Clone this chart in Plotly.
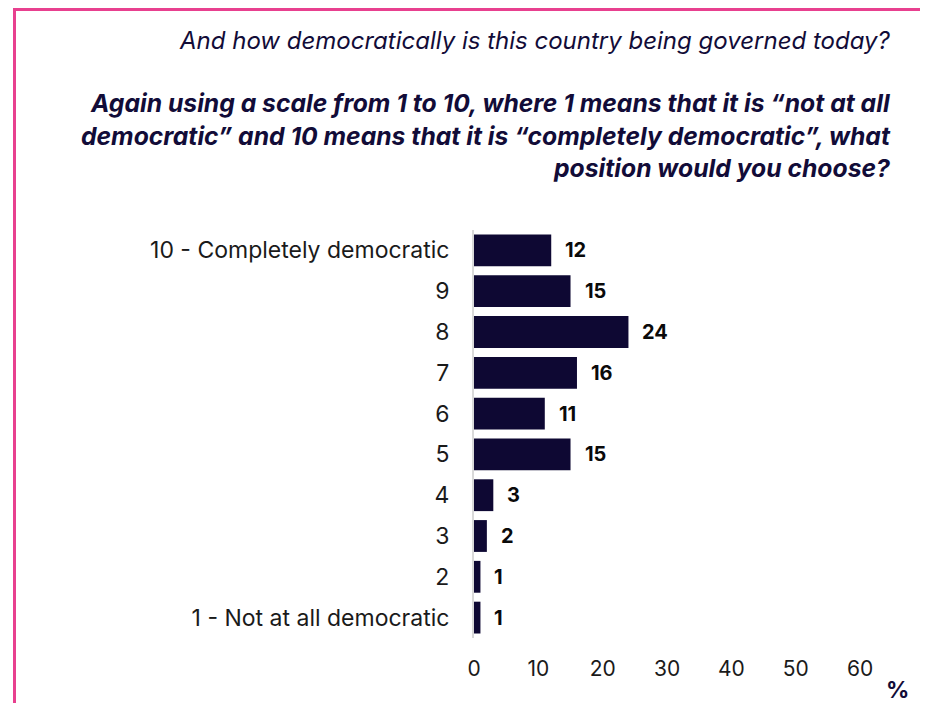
import plotly.graph_objects as go

categories = ["1 - Not at all democratic", "2", "3", "4", "5", "6", "7", "8", "9", "10 - Completely democratic"]
values = [1, 1, 2, 3, 15, 11, 16, 24, 15, 12]
title_line1 = "And how democratically is this country being governed today?"
title_lines = [
    "Again using a scale from 1 to 10, where 1 means that it is \u201cnot at all",
    "democratic\u201d and 10 means that it is \u201ccompletely democratic\u201d, what",
    "position would you choose?",
]
x_ticks = [0, 10, 20, 30, 40, 50, 60]

OFF = 8  # page body margin
W, H = 928 - OFF, 703 - OFF
L, R = 474 - OFF, 873 - OFF
T, B = 230 - OFF, 638 - OFF
FONT = "Inter"
NAVY = "#120c38"
BAR = "#0e0833"
PINK = "#e8408f"

def px(x):
    return (x - OFF - L) / (R - L)

def py(y):
    return (B - (y - OFF)) / (B - T)

fig = go.Figure(go.Bar(
    x=values, y=categories, orientation="h",
    marker=dict(color=BAR, line=dict(width=0)),
    width=0.78, hoverinfo="skip",
))

for i, v in enumerate(values):
    fig.add_annotation(x=v, y=i, text=f"<b>{v}</b>", showarrow=False,
                       xanchor="left", xshift=12,
                       font=dict(family=FONT, size=20, color="#0a0a0a"))

fig.add_annotation(x=px(893), y=py(40), xref="paper", yref="paper",
                   text=f"<i>{title_line1}</i>", showarrow=False,
                   xanchor="right", yanchor="middle",
                   font=dict(family=FONT, size=24, color=NAVY))
for line, yy in zip(title_lines, [103, 136, 168]):
    fig.add_annotation(x=px(893), y=py(yy), xref="paper", yref="paper",
                       text=f"<b><i>{line}</i></b>", showarrow=False,
                       xanchor="right", yanchor="middle",
                       font=dict(family=FONT, size=24.7, color=NAVY))

fig.add_annotation(x=px(897), y=py(690), xref="paper", yref="paper",
                   text="<b>%</b>", showarrow=False,
                   xanchor="center", yanchor="middle",
                   font=dict(family=FONT, size=23, color=NAVY))

# frame lines (top and left)
fig.add_shape(type="line", xref="paper", yref="paper",
              x0=px(13), x1=px(940), y0=py(9.5), y1=py(9.5),
              line=dict(color=PINK, width=3))
fig.add_shape(type="line", xref="paper", yref="paper",
              x0=px(14.5), x1=px(14.5), y0=py(8), y1=py(720),
              line=dict(color=PINK, width=3))

fig.update_layout(
    width=W, height=H,
    margin=dict(l=L, r=W - R, t=T, b=H - B, autoexpand=False),
    paper_bgcolor="white", plot_bgcolor="white",
    showlegend=False,
    font=dict(family=FONT, color="#1a1a1a"),
    xaxis=dict(range=[0, 62], tickvals=x_ticks, showgrid=False, zeroline=False,
               showline=False, ticks="", ticklabelstandoff=16,
               tickfont=dict(family=FONT, size=21, color="#1a1a1a"), fixedrange=True),
    yaxis=dict(type="category", categoryorder="array", categoryarray=categories,
               showgrid=False, zeroline=False, showline=True,
               linecolor="#d9d9d9", linewidth=2, ticks="",
               ticklabelstandoff=18,
               tickfont=dict(family=FONT, size=23, color="#1a1a1a"), fixedrange=True),
)

fig.write_html("out.html")
